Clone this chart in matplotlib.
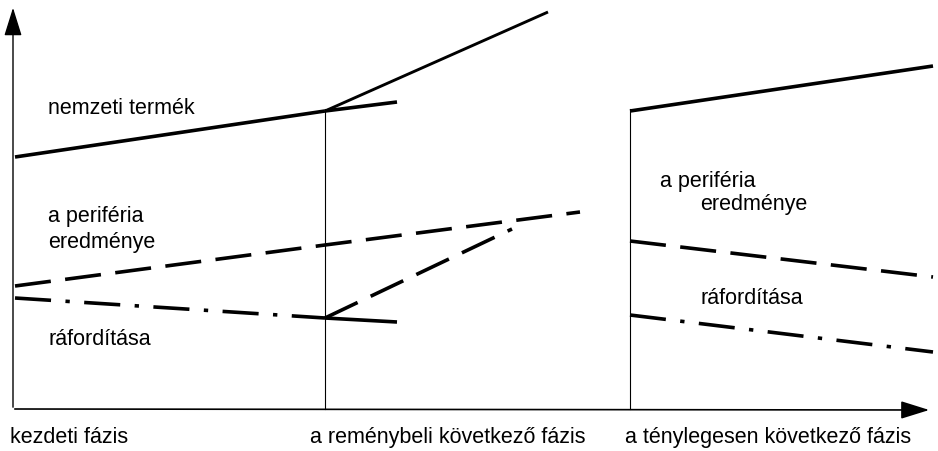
import matplotlib.pyplot as plt

# phase positions on the time axis
phase_x = [15, 325, 630]
phase_labels = ['kezdeti fázis', 'a reménybeli következő fázis', 'a ténylegesen következő fázis']

# nemzeti termék
nt_x = [15, 325]
nt_y = [294, 340]
nt_hope_x = [325, 548]
nt_hope_y = [340, 439]
nt_short_x = [325, 397]
nt_short_y = [340, 349]
nt_real_x = [630, 933]
nt_real_y = [340, 385]

# a periféria eredménye
pe_x = [15, 325, 580]
pe_y = [165, 206, 239]
pe_real_x = [630, 933]
pe_real_y = [210, 174]

# ráfordítása
rf_x = [15, 325]
rf_y = [153, 133]
rf_short_x = [325, 397]
rf_short_y = [133, 129]
rf_up_x = [325, 512]
rf_up_y = [133, 222]
rf_real_x = [630, 933]
rf_real_y = [136, 99]

plt.rcParams['font.family'] = ['Liberation Sans', 'DejaVu Sans']

fig = plt.figure(figsize=(9.38, 4.52), dpi=100)
ax = fig.add_axes([0, 0, 1, 1])
ax.set_xlim(0, 938)
ax.set_ylim(0, 452)
ax.axis('off')

lw = 2.6
dash = (0, (10, 4))
dashdot = (0, (10, 4, 1.2, 4))

# axes with arrows
ax.annotate('', xy=(13, 446), xytext=(13, 41),
            arrowprops=dict(arrowstyle='-|>,head_length=0.8,head_width=0.25',
                            color='black', lw=1, mutation_scale=22))
ax.annotate('', xy=(932, 41), xytext=(12, 42),
            arrowprops=dict(arrowstyle='-|>,head_length=0.8,head_width=0.25',
                            color='black', lw=1.2, mutation_scale=22))

# phase separators
for px in phase_x[1:]:
    ax.plot([px, px], [42, 342], color='black', lw=0.8)

# nemzeti termék
ax.plot(nt_x, nt_y, color='black', lw=lw, solid_capstyle='butt')
ax.plot(nt_hope_x, nt_hope_y, color='black', lw=lw * 0.8, solid_capstyle='butt')
ax.plot(nt_short_x, nt_short_y, color='black', lw=lw, solid_capstyle='butt')
ax.plot(nt_real_x, nt_real_y, color='black', lw=lw, solid_capstyle='butt')

# periféria eredménye
ax.plot(pe_x, pe_y, color='black', lw=lw, linestyle=dash)
ax.plot(pe_real_x, pe_real_y, color='black', lw=lw, linestyle=dash)

# ráfordítása
ax.plot(rf_x, rf_y, color='black', lw=lw, linestyle=dashdot)
ax.plot(rf_short_x, rf_short_y, color='black', lw=lw, solid_capstyle='butt')
ax.plot(rf_up_x, rf_up_y, color='black', lw=lw, linestyle=dash)
ax.plot(rf_real_x, rf_real_y, color='black', lw=lw, linestyle=dashdot)

fs = 15.5
ax.text(48, 344, 'nemzeti termék', fontsize=fs, va='center')
ax.text(48, 235, 'a periféria', fontsize=fs, va='center')
ax.text(48, 209, 'eredménye', fontsize=fs, va='center')
ax.text(48, 112, 'ráfordítása', fontsize=fs, va='center')
ax.text(660, 270, 'a periféria', fontsize=fs, va='center')
ax.text(700, 247, 'eredménye', fontsize=fs, va='center')
ax.text(700, 154, 'ráfordítása', fontsize=fs, va='center')

label_x = [10, 310, 625]
for lx, lab in zip(label_x, phase_labels):
    ax.text(lx, 14, lab, fontsize=fs, va='center')

fig.savefig('out.png', dpi=100, facecolor='white')
